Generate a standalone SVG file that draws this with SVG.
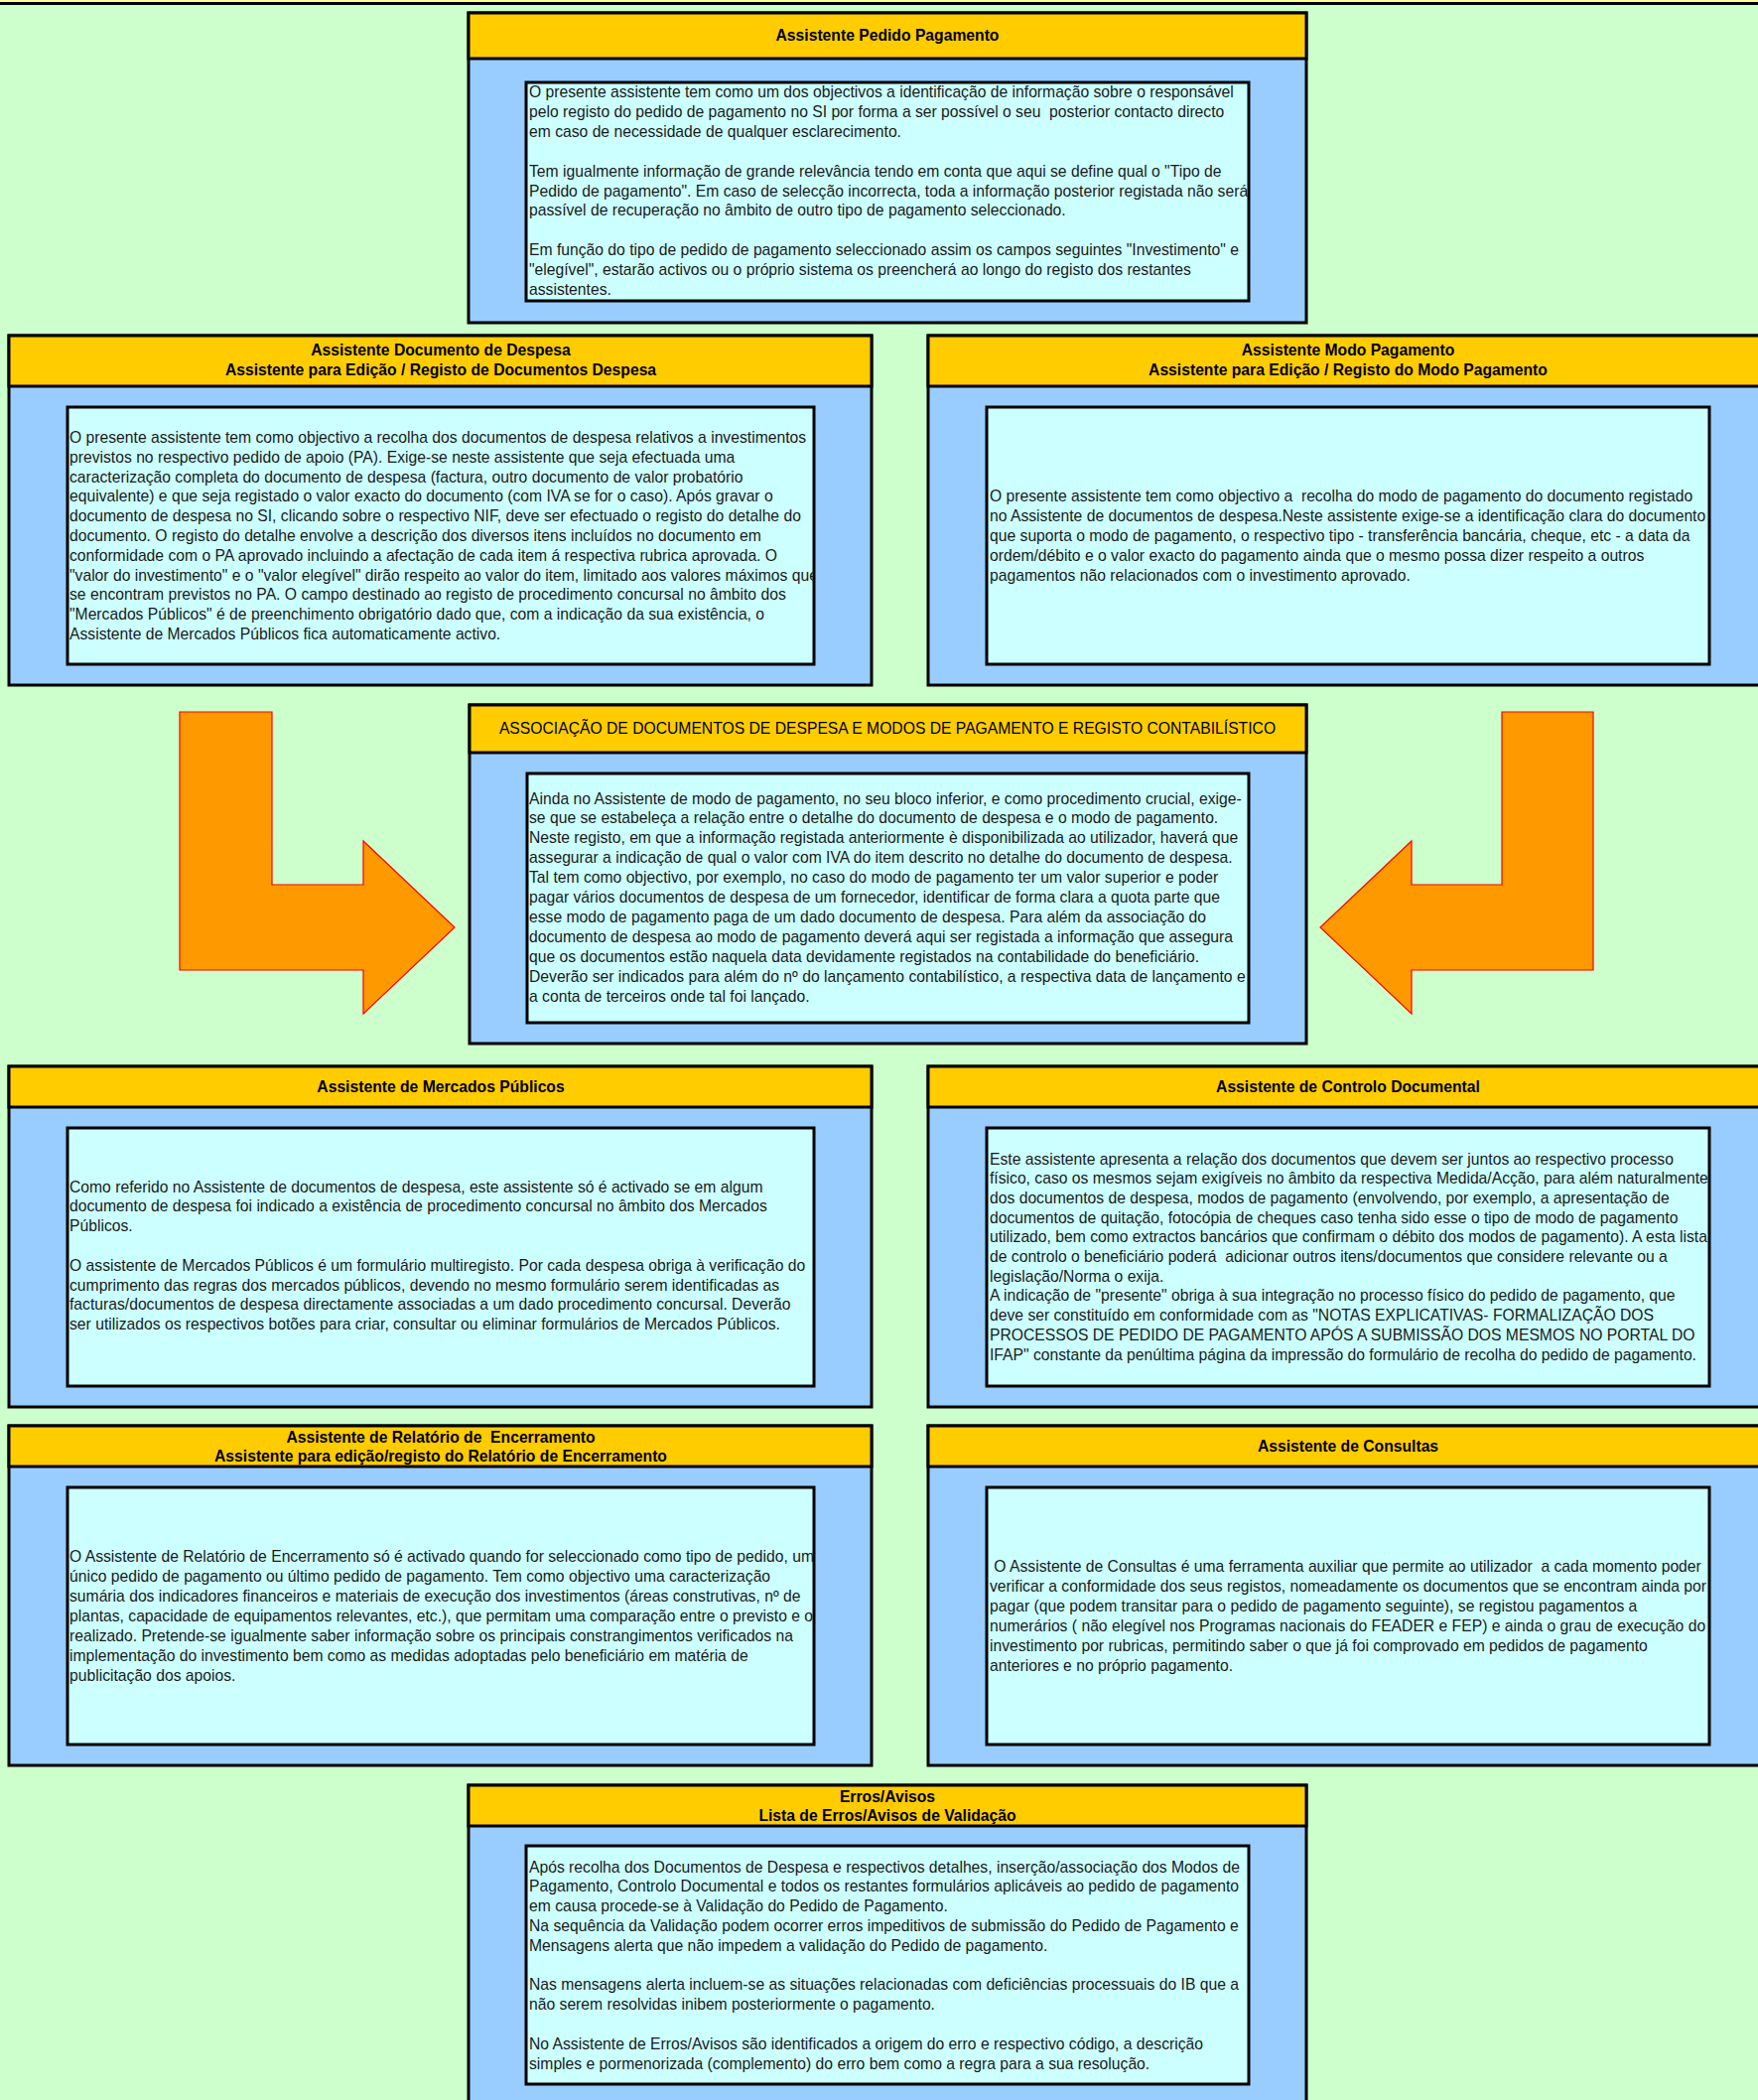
<svg xmlns="http://www.w3.org/2000/svg" width="1771" height="2115" viewBox="0 0 1771 2115">
<style>
.outer{fill:#99CCFF;stroke:#000;stroke-width:3}
.head{fill:#FFCC00;stroke:#000;stroke-width:3}
.inner{fill:#CCFFFF;stroke:#000;stroke-width:3}
.ht{font-family:"Liberation Sans",Arial,sans-serif;font-size:15.7px;font-weight:bold;fill:#000;text-anchor:middle}
.hr{font-family:"Liberation Sans",Arial,sans-serif;font-size:15.7px;fill:#000;text-anchor:middle}
.bt{font-family:"Liberation Sans",Arial,sans-serif;font-size:15.7px;fill:#1a1a1a;white-space:pre}
.arrow{fill:#FF9900;stroke:#FF0000;stroke-width:1.2}
</style>
<defs>
<clipPath id="c1"><rect x="530" y="83" width="728" height="220"/></clipPath>
<clipPath id="c2"><rect x="68" y="410" width="752" height="259"/></clipPath>
<clipPath id="c3"><rect x="994" y="410" width="728" height="259"/></clipPath>
<clipPath id="c4"><rect x="531" y="779" width="727" height="251"/></clipPath>
<clipPath id="c5"><rect x="68" y="1136" width="752" height="260"/></clipPath>
<clipPath id="c6"><rect x="994" y="1136" width="728" height="260"/></clipPath>
<clipPath id="c7"><rect x="68" y="1498" width="752" height="259"/></clipPath>
<clipPath id="c8"><rect x="994" y="1498" width="728" height="259"/></clipPath>
<clipPath id="c9"><rect x="530" y="1859" width="728" height="240"/></clipPath>
</defs>
<rect x="0" y="0" width="1771" height="2115" fill="#CCFFCC"/>
<rect x="0" y="0" width="1771" height="2" fill="#FFFF99"/>
<rect x="0" y="2" width="1771" height="3" fill="#000"/>

<g id="connectors">
<polygon class="arrow" points="181,717 274,717 274,891 366,891 366,847 458,934 366,1021 366,977 181,977"/>
<polygon class="arrow" points="1605,717 1513,717 1513,891 1422,891 1422,847 1330,934 1422,1021 1422,977 1605,977"/>
</g>

<g id="pedido-pagamento">
<rect class="outer" x="472" y="13" width="844" height="312"/>
<rect class="head" x="472" y="13" width="844" height="46"/>
<text class="ht" x="894" y="40.5">Assistente Pedido Pagamento</text>
<rect class="inner" x="530" y="83" width="728" height="220"/>
<text class="bt" clip-path="url(#c1)">
<tspan x="533" y="98">O presente assistente tem como um dos objectivos a identificação de informação sobre o responsável</tspan>
<tspan x="533" y="117.9">pelo registo do pedido de pagamento no SI por forma a ser possível o seu  posterior contacto directo</tspan>
<tspan x="533" y="137.8">em caso de necessidade de qualquer esclarecimento.</tspan>
<tspan x="533" y="177.6">Tem igualmente informação de grande relevância tendo em conta que aqui se define qual o "Tipo de</tspan>
<tspan x="533" y="197.5">Pedido de pagamento". Em caso de selecção incorrecta, toda a informação posterior registada não será</tspan>
<tspan x="533" y="217.4">passível de recuperação no âmbito de outro tipo de pagamento seleccionado.</tspan>
<tspan x="533" y="257.2">Em função do tipo de pedido de pagamento seleccionado assim os campos seguintes "Investimento" e</tspan>
<tspan x="533" y="277.1">"elegível", estarão activos ou o próprio sistema os preencherá ao longo do registo dos restantes</tspan>
<tspan x="533" y="297">assistentes.</tspan>
</text>
</g>

<g id="documento-despesa">
<rect class="outer" x="9" y="338" width="869" height="352"/>
<rect class="head" x="9" y="338" width="869" height="51"/>
<text class="ht"><tspan x="444" y="358">Assistente Documento de Despesa</tspan><tspan x="444" y="378">Assistente para Edição / Registo de Documentos Despesa</tspan></text>
<rect class="inner" x="68" y="410" width="752" height="259"/>
<text class="bt" clip-path="url(#c2)">
<tspan x="70" y="446">O presente assistente tem como objectivo a recolha dos documentos de despesa relativos a investimentos</tspan>
<tspan x="70" y="465.8">previstos no respectivo pedido de apoio (PA). Exige-se neste assistente que seja efectuada uma</tspan>
<tspan x="70" y="485.6">caracterização completa do documento de despesa (factura, outro documento de valor probatório</tspan>
<tspan x="70" y="505.4">equivalente) e que seja registado o valor exacto do documento (com IVA se for o caso). Após gravar o</tspan>
<tspan x="70" y="525.2">documento de despesa no SI, clicando sobre o respectivo NIF, deve ser efectuado o registo do detalhe do</tspan>
<tspan x="70" y="545">documento. O registo do detalhe envolve a descrição dos diversos itens incluídos no documento em</tspan>
<tspan x="70" y="564.8">conformidade com o PA aprovado incluindo a afectação de cada item á respectiva rubrica aprovada. O</tspan>
<tspan x="70" y="584.6">"valor do investimento" e o "valor elegível" dirão respeito ao valor do item, limitado aos valores máximos que</tspan>
<tspan x="70" y="604.4">se encontram previstos no PA. O campo destinado ao registo de procedimento concursal no âmbito dos</tspan>
<tspan x="70" y="624.2">"Mercados Públicos" é de preenchimento obrigatório dado que, com a indicação da sua existência, o</tspan>
<tspan x="70" y="644">Assistente de Mercados Públicos fica automaticamente activo.</tspan>
</text>
</g>

<g id="modo-pagamento">
<rect class="outer" x="935" y="338" width="846" height="352"/>
<rect class="head" x="935" y="338" width="846" height="51"/>
<text class="ht"><tspan x="1358" y="358">Assistente Modo Pagamento</tspan><tspan x="1358" y="378">Assistente para Edição / Registo do Modo Pagamento</tspan></text>
<rect class="inner" x="994" y="410" width="728" height="259"/>
<text class="bt" clip-path="url(#c3)">
<tspan x="997" y="505.4">O presente assistente tem como objectivo a  recolha do modo de pagamento do documento registado</tspan>
<tspan x="997" y="525.2">no Assistente de documentos de despesa.Neste assistente exige-se a identificação clara do documento</tspan>
<tspan x="997" y="545">que suporta o modo de pagamento, o respectivo tipo - transferência bancária, cheque, etc - a data da</tspan>
<tspan x="997" y="564.8">ordem/débito e o valor exacto do pagamento ainda que o mesmo possa dizer respeito a outros</tspan>
<tspan x="997" y="584.6">pagamentos não relacionados com o investimento aprovado.</tspan>
</text>
</g>

<g id="associacao">
<rect class="outer" x="473" y="710" width="843" height="341"/>
<rect class="head" x="473" y="710" width="843" height="48"/>
<text class="hr" x="894" y="738.5">ASSOCIAÇÃO DE DOCUMENTOS DE DESPESA E MODOS DE PAGAMENTO E REGISTO CONTABILÍSTICO</text>
<rect class="inner" x="531" y="779" width="727" height="251"/>
<text class="bt" clip-path="url(#c4)">
<tspan x="533" y="809.5">Ainda no Assistente de modo de pagamento, no seu bloco inferior, e como procedimento crucial, exige-</tspan>
<tspan x="533" y="829.4">se que se estabeleça a relação entre o detalhe do documento de despesa e o modo de pagamento.</tspan>
<tspan x="533" y="849.3">Neste registo, em que a informação registada anteriormente è disponibilizada ao utilizador, haverá que</tspan>
<tspan x="533" y="869.2">assegurar a indicação de qual o valor com IVA do item descrito no detalhe do documento de despesa.</tspan>
<tspan x="533" y="889.1">Tal tem como objectivo, por exemplo, no caso do modo de pagamento ter um valor superior e poder</tspan>
<tspan x="533" y="909">pagar vários documentos de despesa de um fornecedor, identificar de forma clara a quota parte que</tspan>
<tspan x="533" y="928.9">esse modo de pagamento paga de um dado documento de despesa. Para além da associação do</tspan>
<tspan x="533" y="948.8">documento de despesa ao modo de pagamento deverá aqui ser registada a informação que assegura</tspan>
<tspan x="533" y="968.7">que os documentos estão naquela data devidamente registados na contabilidade do beneficiário.</tspan>
<tspan x="533" y="988.6">Deverão ser indicados para além do nº do lançamento contabilístico, a respectiva data de lançamento e</tspan>
<tspan x="533" y="1008.5">a conta de terceiros onde tal foi lançado.</tspan>
</text>
</g>

<g id="mercados-publicos">
<rect class="outer" x="9" y="1074" width="869" height="343"/>
<rect class="head" x="9" y="1074" width="869" height="41"/>
<text class="ht" x="444" y="1099.5">Assistente de Mercados Públicos</text>
<rect class="inner" x="68" y="1136" width="752" height="260"/>
<text class="bt" clip-path="url(#c5)">
<tspan x="70" y="1200.5">Como referido no Assistente de documentos de despesa, este assistente só é activado se em algum</tspan>
<tspan x="70" y="1220.3">documento de despesa foi indicado a existência de procedimento concursal no âmbito dos Mercados</tspan>
<tspan x="70" y="1240.1">Públicos.</tspan>
<tspan x="70" y="1279.7">O assistente de Mercados Públicos é um formulário multiregisto. Por cada despesa obriga à verificação do</tspan>
<tspan x="70" y="1299.5">cumprimento das regras dos mercados públicos, devendo no mesmo formulário serem identificadas as</tspan>
<tspan x="70" y="1319.3">facturas/documentos de despesa directamente associadas a um dado procedimento concursal. Deverão</tspan>
<tspan x="70" y="1339.1">ser utilizados os respectivos botões para criar, consultar ou eliminar formulários de Mercados Públicos.</tspan>
</text>
</g>

<g id="controlo-documental">
<rect class="outer" x="935" y="1074" width="846" height="343"/>
<rect class="head" x="935" y="1074" width="846" height="41"/>
<text class="ht" x="1358" y="1099.5">Assistente de Controlo Documental</text>
<rect class="inner" x="994" y="1136" width="728" height="260"/>
<text class="bt" clip-path="url(#c6)">
<tspan x="997" y="1172.5">Este assistente apresenta a relação dos documentos que devem ser juntos ao respectivo processo</tspan>
<tspan x="997" y="1192.2">físico, caso os mesmos sejam exigíveis no âmbito da respectiva Medida/Acção, para além naturalmente</tspan>
<tspan x="997" y="1211.9">dos documentos de despesa, modos de pagamento (envolvendo, por exemplo, a apresentação de</tspan>
<tspan x="997" y="1231.6">documentos de quitação, fotocópia de cheques caso tenha sido esse o tipo de modo de pagamento</tspan>
<tspan x="997" y="1251.3">utilizado, bem como extractos bancários que confirmam o débito dos modos de pagamento). A esta lista</tspan>
<tspan x="997" y="1271">de controlo o beneficiário poderá  adicionar outros itens/documentos que considere relevante ou a</tspan>
<tspan x="997" y="1290.7">legislação/Norma o exija.</tspan>
<tspan x="997" y="1310.4">A indicação de "presente" obriga à sua integração no processo físico do pedido de pagamento, que</tspan>
<tspan x="997" y="1330.1">deve ser constituído em conformidade com as "NOTAS EXPLICATIVAS- FORMALIZAÇÃO DOS</tspan>
<tspan x="997" y="1349.8">PROCESSOS DE PEDIDO DE PAGAMENTO APÓS A SUBMISSÃO DOS MESMOS NO PORTAL DO</tspan>
<tspan x="997" y="1369.5">IFAP" constante da penúltima página da impressão do formulário de recolha do pedido de pagamento.</tspan>
</text>
</g>

<g id="relatorio-encerramento">
<rect class="outer" x="9" y="1436" width="869" height="342"/>
<rect class="head" x="9" y="1436" width="869" height="41"/>
<text class="ht" style="white-space:pre"><tspan x="444" y="1452.5">Assistente de Relatório de  Encerramento</tspan><tspan x="444" y="1471.5">Assistente para edição/registo do Relatório de Encerramento</tspan></text>
<rect class="inner" x="68" y="1498" width="752" height="259"/>
<text class="bt" clip-path="url(#c7)">
<tspan x="70" y="1572.5">O Assistente de Relatório de Encerramento só é activado quando for seleccionado como tipo de pedido, um</tspan>
<tspan x="70" y="1592.5">único pedido de pagamento ou último pedido de pagamento. Tem como objectivo uma caracterização</tspan>
<tspan x="70" y="1612.5">sumária dos indicadores financeiros e materiais de execução dos investimentos (áreas construtivas, nº de</tspan>
<tspan x="70" y="1632.5">plantas, capacidade de equipamentos relevantes, etc.), que permitam uma comparação entre o previsto e o</tspan>
<tspan x="70" y="1652.5">realizado. Pretende-se igualmente saber informação sobre os principais constrangimentos verificados na</tspan>
<tspan x="70" y="1672.5">implementação do investimento bem como as medidas adoptadas pelo beneficiário em matéria de</tspan>
<tspan x="70" y="1692.5">publicitação dos apoios.</tspan>
</text>
</g>

<g id="consultas">
<rect class="outer" x="935" y="1436" width="846" height="342"/>
<rect class="head" x="935" y="1436" width="846" height="41"/>
<text class="ht" x="1358" y="1461.5">Assistente de Consultas</text>
<rect class="inner" x="994" y="1498" width="728" height="259"/>
<text class="bt" clip-path="url(#c8)">
<tspan x="997" y="1582.5"> O Assistente de Consultas é uma ferramenta auxiliar que permite ao utilizador  a cada momento poder</tspan>
<tspan x="997" y="1602.5">verificar a conformidade dos seus registos, nomeadamente os documentos que se encontram ainda por</tspan>
<tspan x="997" y="1622.5">pagar (que podem transitar para o pedido de pagamento seguinte), se registou pagamentos a</tspan>
<tspan x="997" y="1642.5">numerários ( não elegível nos Programas nacionais do FEADER e FEP) e ainda o grau de execução do</tspan>
<tspan x="997" y="1662.5">investimento por rubricas, permitindo saber o que já foi comprovado em pedidos de pagamento</tspan>
<tspan x="997" y="1682.5">anteriores e no próprio pagamento.</tspan>
</text>
</g>

<g id="erros-avisos">
<rect class="outer" x="472" y="1798" width="844" height="340"/>
<rect class="head" x="472" y="1798" width="844" height="41"/>
<text class="ht"><tspan x="894" y="1814.5">Erros/Avisos</tspan><tspan x="894" y="1833.5">Lista de Erros/Avisos de Validação</tspan></text>
<rect class="inner" x="530" y="1859" width="728" height="240"/>
<text class="bt" clip-path="url(#c9)">
<tspan x="533" y="1885.5">Após recolha dos Documentos de Despesa e respectivos detalhes, inserção/associação dos Modos de</tspan>
<tspan x="533" y="1905.3">Pagamento, Controlo Documental e todos os restantes formulários aplicáveis ao pedido de pagamento</tspan>
<tspan x="533" y="1925.1">em causa procede-se à Validação do Pedido de Pagamento.</tspan>
<tspan x="533" y="1944.9">Na sequência da Validação podem ocorrer erros impeditivos de submissão do Pedido de Pagamento e</tspan>
<tspan x="533" y="1964.7">Mensagens alerta que não impedem a validação do Pedido de pagamento.</tspan>
<tspan x="533" y="2004.3">Nas mensagens alerta incluem-se as situações relacionadas com deficiências processuais do IB que a</tspan>
<tspan x="533" y="2024.1">não serem resolvidas inibem posteriormente o pagamento.</tspan>
<tspan x="533" y="2063.7">No Assistente de Erros/Avisos são identificados a origem do erro e respectivo código, a descrição</tspan>
<tspan x="533" y="2083.5">simples e pormenorizada (complemento) do erro bem como a regra para a sua resolução.</tspan>
</text>
</g>
</svg>
